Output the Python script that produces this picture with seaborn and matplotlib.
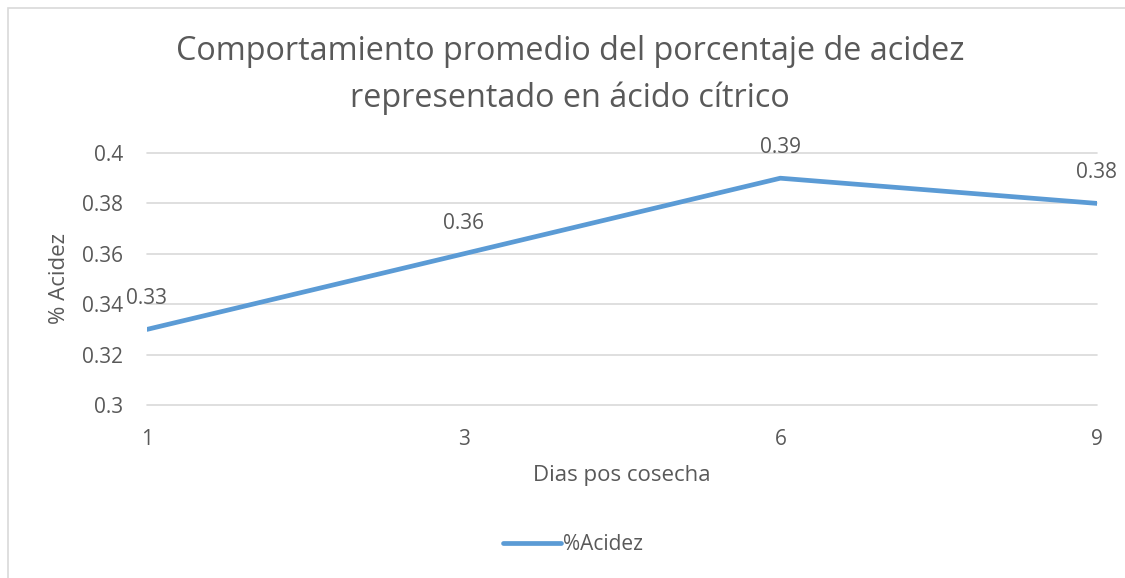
import matplotlib
matplotlib.use("Agg")
import matplotlib.pyplot as plt
import seaborn as sns
import pandas as pd
from matplotlib.patches import Rectangle

dias = ["1", "3", "6", "9"]
acidez = [0.33, 0.36, 0.39, 0.38]
yticks = [0.3, 0.32, 0.34, 0.36, 0.38, 0.4]
ytick_labels = ["0.3", "0.32", "0.34", "0.36", "0.38", "0.4"]
series_name = "%Acidez"

sns.set_theme(style="white")
plt.rcParams['font.family'] = ['Open Sans', 'DejaVu Sans']
txt = "#595959"
blue = "#5B9BD5"

df = pd.DataFrame({"Dias": dias, "Acidez": acidez})

fig = plt.figure(figsize=(11.25, 5.78), dpi=100)
W, H = 1125, 578
L, R, T, B = 147, 1097, 153, 405
ax = fig.add_axes([L/W, 1-B/H, (R-L)/W, (B-T)/H])

sns.lineplot(data=df, x="Dias", y="Acidez", ax=ax, color=blue, linewidth=3.4,
             label=series_name, sort=False, solid_capstyle="round")

ax.set_xlim(0, len(dias)-1)
ax.set_ylim(0.3, 0.4)
ax.set_yticks(yticks)
ax.set_yticklabels(ytick_labels)
ax.grid(axis="y", color="#D9D9D9", linewidth=1.2)
ax.grid(axis="x", visible=False)
for gl in ax.get_ygridlines():
    gl.set_clip_on(False)
for s in ax.spines.values():
    s.set_visible(False)
ax.tick_params(axis="both", length=0, labelsize=15, colors=txt)
ax.tick_params(axis="y", pad=17)
ax.tick_params(axis="x", pad=17)
ax.set_axisbelow(True)

for i, v in enumerate(acidez):
    ax.annotate(f"{v:.2f}", (i, v), xytext=(0, 22), textcoords="offset points",
                ha="center", va="center", fontsize=15, color=txt)

ax.set_xlabel("Dias pos cosecha", fontsize=16, color=txt)
ax.set_ylabel("% Acidez", fontsize=16, color=txt)
ax.xaxis.label.set_va("center")
ax.yaxis.label.set_va("center")
ax.xaxis.set_label_coords((622-L)/(R-L), -(476-B)/(B-T))
ax.yaxis.set_label_coords(-(L-60)/(R-L), (B-279)/(B-T))

leg = ax.legend(loc="center", bbox_to_anchor=(573/W, 1-545/H),
                bbox_transform=fig.transFigure, frameon=False, fontsize=15,
                handlelength=2.8, handletextpad=0.1)
for t in leg.get_texts():
    t.set_color(txt)

fig.text(570/W, 1-75/H,
         "Comportamiento promedio del porcentaje de acidez\nrepresentado en ácido cítrico",
         ha="center", va="center", fontsize=23.3, color=txt, linespacing=1.5)

fig.patches.append(Rectangle((8/W, -0.1), 1.2, 1 - 8/H + 0.1,
                             transform=fig.transFigure, fill=False,
                             edgecolor="#D9D9D9", linewidth=1.2))

fig.savefig("out.png", dpi=100, facecolor="white")
